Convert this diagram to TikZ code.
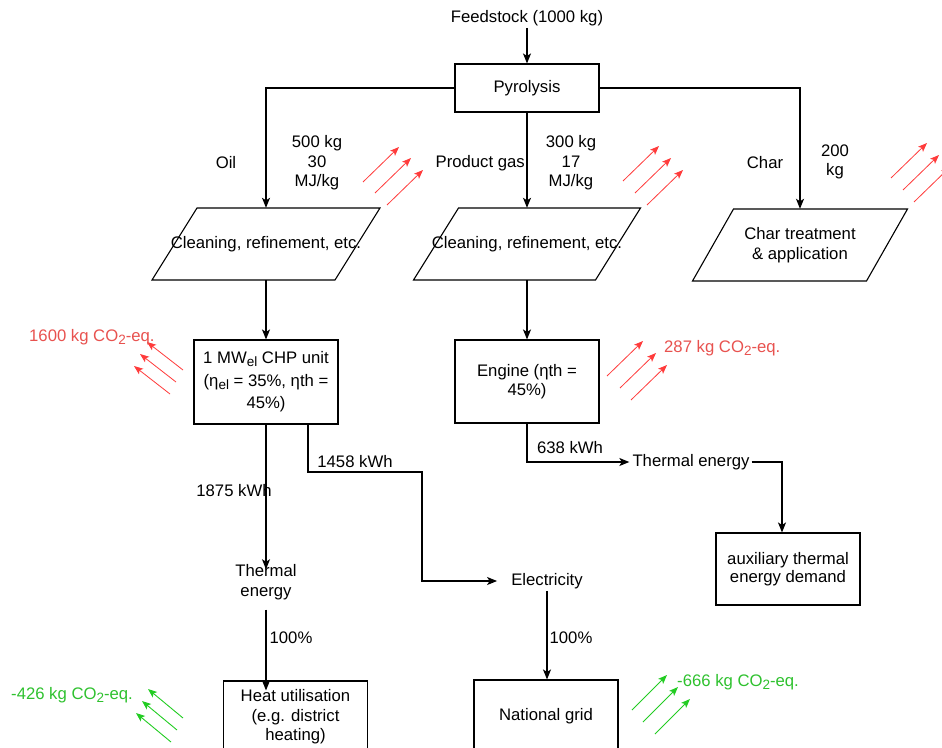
\documentclass[tikz,border=0pt]{standalone}
\usepackage{fontspec}
\setmainfont{Liberation Sans}
\usetikzlibrary{arrows.meta}
\definecolor{co2red}{HTML}{E8524F}
\definecolor{arrred}{HTML}{FF3B3B}
\definecolor{co2green}{HTML}{2EC12E}
\definecolor{arrgreen}{HTML}{22CC22}
\newcommand\lowsub[1]{\raisebox{-0.35ex}{\fontsize{13.5}{13.5}\selectfont #1}}
\tikzset{
  every node/.style={font=\fontsize{16.7}{19.5}\selectfont, inner sep=2pt},
  box/.style={draw, line width=1.1pt, minimum width=144pt, align=center},
  paraslot/.style={minimum height=72pt, minimum width=10pt, align=center, inner sep=0pt},
  lbl/.style={align=center, inner sep=0pt},
  arr/.style={line width=1.1pt, -{Stealth[length=10pt,width=8pt,inset=2.5pt]}},
  plain/.style={line width=1.1pt},
  redarr/.style={draw=arrred, line width=0.8pt, -{Stealth[length=9pt,width=7pt,inset=2pt]}},
  greenarr/.style={draw=arrgreen, line width=0.9pt, -{Stealth[length=9pt,width=7pt,inset=2pt]}},
}
\begin{document}
\begin{tikzpicture}[x=1pt,y=-1pt]
\useasboundingbox (0,0) rectangle (942,747);
\clip (0,0) rectangle (942,747);
% nodes
\node (feed) at (527,18) {Feedstock (1000 kg)};
\node[box, minimum height=48pt] (pyro) at (527,88) {Pyrolysis};
\node[paraslot] (oilp) at (266,244) {Cleaning, refinement, etc.};
\node[paraslot] (gasp) at (527,244) {Cleaning, refinement, etc.};
\node[paraslot] (charp) at (800,245) {Char treatment\\\& application};
\foreach \n/\w/\s in {oilp/91.5/22.5,gasp/91/22.5,charp/87/20.5}{
  \draw[plain] ([shift={(-\w+\s,-36)}]\n.center) -- ([shift={(\w+\s,-36)}]\n.center)
     -- ([shift={(\w-\s,36)}]\n.center) -- ([shift={(-\w-\s,36)}]\n.center) -- cycle;
}
\node[box, minimum height=84pt, font=\fontsize{16.7}{22.5}\selectfont] (chp) at (266,382) {1 MW\lowsub{el} CHP unit\\(η\lowsub{el} = 35\%, ηth =\\45\%)};
\node[box, minimum height=83pt] (eng) at (527,381.5) {Engine (ηth =\\45\%)};
\node (thE) at (691,462) {Thermal energy};
\node[box, minimum height=72pt, font=\fontsize{16.7}{18}\selectfont] (aux) at (788,569) {auxiliary thermal\\energy demand};
\node[lbl] (thC) at (266,582) {Thermal\\energy};
\node (elec) at (547,581) {Electricity};
\node[box, minimum height=72pt] (heat) at (295.5,717) {Heat utilisation\\(e.g. district\\heating)};
\node[box, minimum height=72pt] (grid) at (546,716) {National grid};
% connectors
\draw[arr] (feed.south) -- (feed.south |- pyro.north);
\draw[arr] (pyro.west) -| (oilp.north);
\draw[arr] (pyro.south) -- (pyro.south |- gasp.north);
\draw[arr] (pyro.east) -| (charp.north);
\draw[arr] (oilp.south) -- (oilp.south |- chp.north);
\draw[arr] (gasp.south) -- (gasp.south |- eng.north);
\draw[arr] (eng.south) |- ([xshift=-1pt]thE.west);
\draw[arr] (thE.east) -| ([xshift=-6pt]aux.north);
\draw[arr] (chp.south) -- ([yshift=-5pt]thC.north);
\coordinate (bend) at (422,472);
\draw[arr] ([xshift=42pt]chp.south) |- (bend) |- ([xshift=-12pt]elec.west);
\draw[arr] ([yshift=-10pt]thC.south) -- ([yshift=-10pt]thC.south |- heat.north);
\draw[arr] (elec.south) -- (elec.south |- grid.north);
% edge labels
\node at (226,163) {Oil};
\node[lbl] at (317,163) {500 kg\\30\\MJ/kg};
\node[anchor=east, inner sep=0pt] at (525,163) {Product gas};
\node[lbl] at (571,163) {300 kg\\17\\MJ/kg};
\node at (765,163) {Char};
\node[lbl] at (835,162) {200\\kg};
\node at (570,448) {638 kWh};
\node at (355,462) {1458 kWh};
\node at (234,491) {1875 kWh};
\node at (291,638) {100\%};
\node at (571,638) {100\%};
% emission arrows
\foreach \x/\y in {363/182,375/193,387/205, 623/181,635/193,647/205, 891/178,903/190,914/202, 607/376,620/388,631/400}
  \draw[redarr] (\x,\y) -- ++(36,-35);
\foreach \x/\y in {183/370,176/382,170/394}
  \draw[redarr] (\x,\y) -- ++(-36,-28);
\foreach \x/\y in {183/718,177/730,171/742}
  \draw[greenarr] (\x,\y) -- ++(-35,-29);
\foreach \x/\y in {632/710,643/722,655/734}
  \draw[greenarr] (\x,\y) -- ++(35,-35);
% emission labels
\node[anchor=west, text=co2red, inner sep=0pt] at (29,337) {1600 kg CO\lowsub{2}-eq.};
\node[anchor=west, text=co2red, inner sep=0pt] at (664,348) {287 kg CO\lowsub{2}-eq.};
\node[anchor=west, text=co2green, inner sep=0pt] at (11,695) {-426 kg CO\lowsub{2}-eq.};
\node[anchor=west, text=co2green, inner sep=0pt] at (677,682) {-666 kg CO\lowsub{2}-eq.};
\end{tikzpicture}
\end{document}
